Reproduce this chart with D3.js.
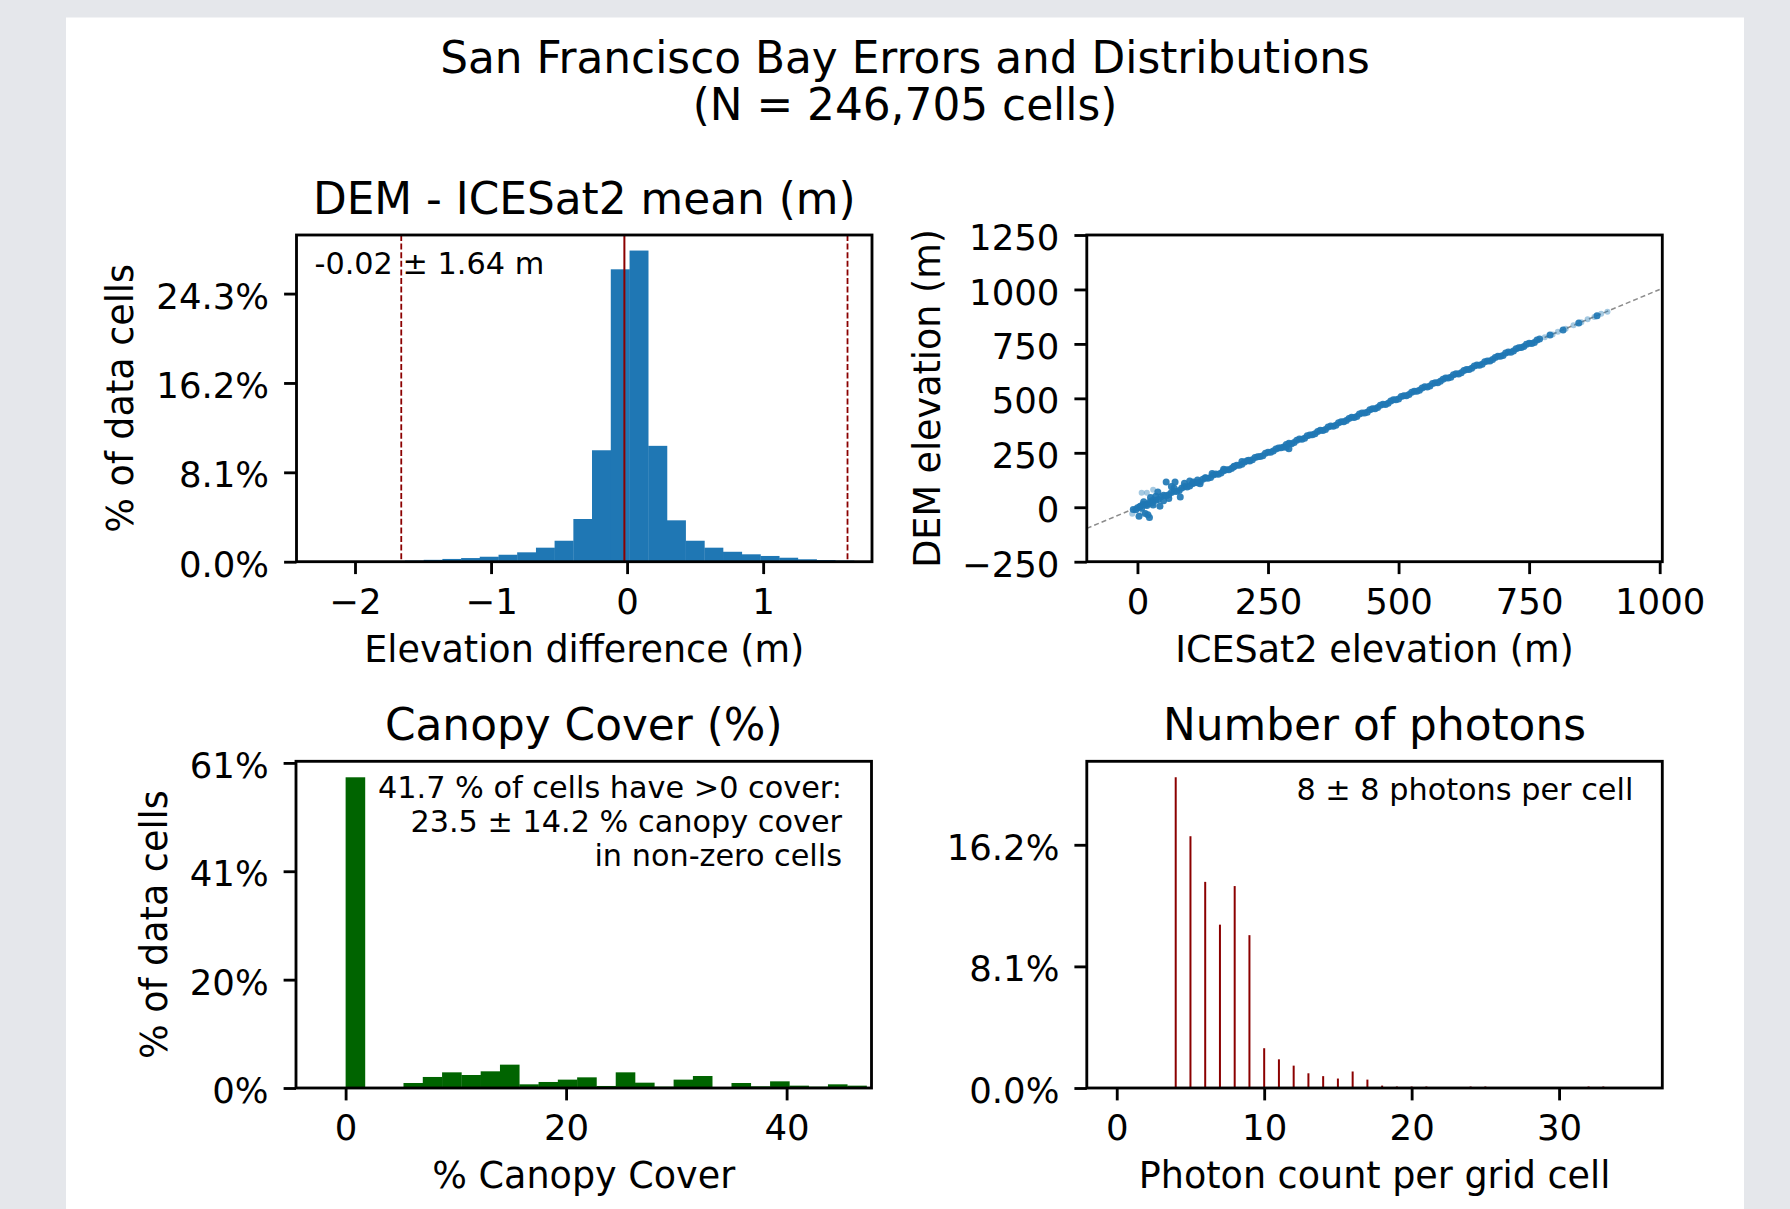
<!DOCTYPE html>
<html>
<head>
<meta charset="utf-8">
<script src="https://cdn.jsdelivr.net/npm/d3@7"></script>
<style>
  body { margin: 0; background: #e5e7eb; }
  svg { display: block; }
  text { font-family: "DejaVu Sans", sans-serif; fill: #000; }
</style>
</head>
<body>
<svg width="1790" height="1209"></svg>
<script>
// ---- data ----
var suptitle = ["San Francisco Bay Errors and Distributions", "(N = 246,705 cells)"];

// DEM - ICESat2 difference histogram (bin edges in m, % of cells)
var diffEdges = [-1.633, -1.495, -1.358, -1.220, -1.083, -0.945, -0.808, -0.670, -0.533, -0.395,
                 -0.258, -0.120, 0.018, 0.155, 0.293, 0.430, 0.568, 0.705, 0.843, 0.980,
                 1.118, 1.255, 1.393, 1.530, 1.668];
var diffPct = [0.1, 0.17, 0.25, 0.33, 0.45, 0.63, 0.85, 1.27, 1.9, 3.87, 10.1, 26.5,
               28.2, 10.5, 3.75, 1.9, 1.27, 0.9, 0.67, 0.52, 0.36, 0.22, 0.15, 0.1];
var diffMean = -0.02, diffStd = 1.64;
var diffYTicks = [0, 8.1, 16.2, 24.3];
var diffYLabels = ["0.0%", "8.1%", "16.2%", "24.3%"];
var diffXTicks = [-2, -1, 0, 1];

// ICESat2 vs DEM elevation scatter (m)
var icesatElev = [0, 10, 20, 30, 40, 50, 60, 70, 80, 90, 100, 110, 120, 130, 140, 150, 160, 170, 180, 190,
                  200, 210, 220, 230, 240, 250, 260, 270, 280, 290, 300, 310, 320, 330, 340, 350, 360, 370, 380, 390,
                  400, 410, 420, 430, 440, 450, 460, 470, 480, 490, 500, 510, 520, 530, 540, 550, 560, 570, 580, 590,
                  600, 610, 620, 630, 640, 650, 660, 670, 680, 690, 700, 710, 720, 730, 740, 750, 760, 770,
                  5, 15, 25, 35, 45, 55, 65, 75, 85, 95, 105, 115, 125, 135, 145, 155, 165, 175, 185, 195,
                  205, 215, 225, 235, 245, 255, 265, 275, 285, 295, 305, 315, 325, 335, 345, 355, 365, 375, 385, 395,
                  405, 415, 425, 435, 445, 455, 465, 475, 485, 495, 505, 515, 525, 535, 545, 555, 565, 575, 585, 595,
                  605, 615, 625, 635, 645, 655, 665, 675, 685, 695, 705, 715, 725, 735, 745, 755, 765,
                  -8, 5, 3, 15, 23, 20, 43, 39, 55, 72, 82, 60, 70, 90, 100, 107, 120, 130, 143, 165,
                  184, 200, 213, 290, 285, 30, 50, 25, 12, 35, 65, 115, -3, 8, 18, 28,
                  790, 815, 845, 880];
var demElev =    [-2, 13, 16, 33, 36, 55, 57, 74, 77, 95, 98, 113, 117, 134, 137, 153, 157, 172, 178, 193,
                  197, 213, 218, 232, 236, 253, 258, 272, 277, 294, 297, 313, 317, 332, 338, 353, 357, 373, 377, 392,
                  398, 413, 417, 433, 436, 452, 458, 473, 477, 493, 497, 512, 518, 533, 537, 553, 557, 572, 578, 593,
                  597, 613, 617, 632, 638, 653, 657, 672, 678, 693, 697, 713, 717, 732, 738, 753, 757, 772,
                  3, 13, 28, 32, 48, 53, 68, 72, 88, 93, 108, 112, 128, 133, 148, 152, 168, 172, 188, 193,
                  208, 212, 228, 233, 248, 252, 268, 273, 288, 292, 308, 312, 328, 333, 348, 352, 368, 372, 388, 393,
                  408, 412, 428, 433, 448, 452, 468, 472, 488, 493, 508, 512, 528, 533, 548, 552, 568, 572, 588, 593,
                  608, 612, 628, 633, 648, 652, 668, 672, 688, 693, 708, 712, 728, 733, 748, 752, 768,
                  -10, 4, -41, -29, -47, -35, 5, 70, 116, 116, 47, 40, 88, 110, 120, 116, 108, 135, 155, 175,
                  185, 210, 216, 269, 275, 10, 30, 45, 25, 50, 95, 125, -12, -5, 8, 20,
                  791, 814, 846, 879];
var faintIcesat = [8, 18, -10, 10, 30, 780, 795, 805, 820, 835, 850, 862, 875, 888, 900];
var faintDem =    [67, 67, -30, -25, 80, 781, 793, 806, 819, 836, 849, 863, 874, 889, 898];
var oneToOne = [-97, 1000];
var elevXTicks = [0, 250, 500, 750, 1000];
var elevYTicks = [-250, 0, 250, 500, 750, 1000, 1250];

// canopy cover histogram (bin left edges in %, % of cells)
var canopyBins = [0, 1.75, 3.5, 5.25, 7, 8.75, 10.5, 12.25, 14, 15.75, 17.5, 19.25, 21, 22.75,
                  24.5, 26.25, 28, 29.75, 31.5, 33.25, 35, 36.75, 38.5, 40.25, 42, 43.75, 45.5];
var canopyPct = [58.3, 0, 0.1, 0.94, 2.07, 2.94, 2.44, 3.13, 4.38, 0.69, 1.13, 1.57, 2.0, 0.38,
                 2.94, 1.0, 0.25, 1.57, 2.25, 0.06, 0.94, 0.31, 1.25, 0.44, 0.25, 0.69, 0.44];
var canopyBinWidth = 1.75;
var canopyYTicks = [0, 20.33, 40.67, 61];
var canopyYLabels = ["0%", "20%", "41%", "61%"];
var canopyXTicks = [0, 20, 40];
var canopyNote = ["41.7 % of cells have >0 cover:", "23.5 \u00b1 14.2 % canopy cover", "in non-zero cells"];

// photon count distribution
var photonCounts = [4, 5, 6, 7, 8, 9, 10, 11, 12, 13, 14, 15, 16, 17, 18, 19, 20, 21, 24, 25, 32, 33];
var photonPct = [20.7, 16.77, 13.73, 10.88, 13.45, 10.18, 2.65, 1.91, 1.49, 0.98, 0.79, 0.63,
                 1.10, 0.56, 0.16, 0.1, 0.1, 0.1, 0.1, 0.1, 0.1, 0.1];
var photonYTicks = [0, 8.1, 16.2];
var photonYLabels = ["0.0%", "8.1%", "16.2%"];
var photonXTicks = [0, 10, 20, 30];

function main() {
    var svg = d3.select("svg");
    var W = 575.5, H = 326.7;
    var tickFont = 35.5, labelFont = 36.5, titleFont = 43.8, noteFont = 30.3;
    var blue = "#1f77b4", green = "#006400", red = "#8b0000";

    svg.append("rect").attr("width", 1790).attr("height", 1209).attr("fill", "#e5e7eb");
    svg.append("rect").attr("x", 66).attr("y", 17.5).attr("width", 1678).attr("height", 1200).attr("fill", "#fff");

    svg.append("text").attr("x", 905).attr("y", 73.3).attr("text-anchor", "middle")
       .attr("font-size", titleFont).text(suptitle[0]);
    svg.append("text").attr("x", 905).attr("y", 120).attr("text-anchor", "middle")
       .attr("font-size", titleFont).text(suptitle[1]);

    function panel(left, top, xDom, yDom, title) {
        var g = svg.append("g").attr("transform", "translate(" + left + "," + top + ")");
        var x = d3.scaleLinear().domain(xDom).range([0, W]);
        var y = d3.scaleLinear().domain(yDom).range([H, 0]);
        g.append("text").attr("x", W / 2).attr("y", -21.5).attr("text-anchor", "middle")
         .attr("font-size", titleFont).text(title);
        return { g: g, x: x, y: y };
    }

    function axes(p, xTicks, xFmt, yTicks, yFmt, xLabel, yLabel, yLabelX) {
        p.g.append("g").attr("class", "axis").attr("transform", "translate(0," + H + ")")
           .call(d3.axisBottom(p.x).tickValues(xTicks).tickFormat(xFmt)
                 .tickSize(12.4).tickPadding(14.7));
        p.g.append("g").attr("class", "axis")
           .call(d3.axisLeft(p.y).tickValues(yTicks).tickFormat(yFmt)
                 .tickSize(12.4).tickPadding(15))
           .selectAll("text").attr("dy", "0.41em");
        p.g.selectAll(".axis .domain").remove();
        p.g.selectAll(".axis line").attr("stroke", "#000").attr("stroke-width", 2.84);
        p.g.selectAll(".axis text").attr("font-size", tickFont)
           .attr("font-family", "DejaVu Sans").attr("fill", "#000");
        p.g.append("rect").attr("width", W).attr("height", H)
           .attr("fill", "none").attr("stroke", "#000").attr("stroke-width", 2.84);
        p.g.append("text").attr("x", W / 2).attr("y", H + 100.5).attr("text-anchor", "middle")
           .attr("font-size", labelFont).text(xLabel);
        if (yLabel) {
            p.g.append("text")
               .attr("transform", "translate(" + yLabelX + "," + (H / 2) + ") rotate(-90)")
               .attr("text-anchor", "middle").attr("font-size", labelFont).text(yLabel);
        }
    }

    // --- panel 1: elevation difference histogram
    var p1 = panel(296.5, 235, [-2.43, 1.80], [0, 29.61], "DEM - ICESat2 mean (m)");
    p1.g.selectAll(".bar").data(diffPct).enter().append("rect")
       .attr("x", function(d, i) { return p1.x(diffEdges[i]); })
       .attr("y", function(d) { return p1.y(d); })
       .attr("width", function(d, i) { return p1.x(diffEdges[i + 1]) - p1.x(diffEdges[i]) + 0.3; })
       .attr("height", function(d) { return H - p1.y(d); })
       .attr("fill", blue);
    p1.g.append("line").attr("x1", p1.x(diffMean)).attr("x2", p1.x(diffMean))
       .attr("y1", 0).attr("y2", H).attr("stroke", red).attr("stroke-width", 2);
    [diffMean - diffStd, diffMean + diffStd].forEach(function(v) {
        p1.g.append("line").attr("x1", p1.x(v)).attr("x2", p1.x(v))
           .attr("y1", 0).attr("y2", H).attr("stroke", red).attr("stroke-width", 1.8)
           .attr("stroke-dasharray", "6,2.6");
    });
    p1.g.append("text").attr("x", 18).attr("y", 39).attr("font-size", noteFont)
       .text(diffMean.toFixed(2) + " \u00b1 " + diffStd.toFixed(2) + " m");
    axes(p1, diffXTicks, d3.format("d"), diffYTicks, function(d, i) { return diffYLabels[i]; },
         "Elevation difference (m)", "% of data cells", -163.2);

    // --- panel 2: ICESat2 vs DEM scatter
    var p2 = panel(1086.8, 235, [-97, 1005], [-250, 1250], "");
    p2.g.append("line")
       .attr("x1", p2.x(oneToOne[0])).attr("y1", p2.y(oneToOne[0]))
       .attr("x2", p2.x(oneToOne[1])).attr("y2", p2.y(oneToOne[1]))
       .attr("stroke", "#8c8c8c").attr("stroke-width", 1.5).attr("stroke-dasharray", "5,3");
    p2.g.selectAll(".faint").data(faintIcesat).enter().append("circle")
       .attr("cx", function(d) { return p2.x(d); })
       .attr("cy", function(d, i) { return p2.y(faintDem[i]); })
       .attr("r", 3).attr("fill", blue).attr("fill-opacity", 0.4);
    p2.g.selectAll(".pt").data(icesatElev).enter().append("circle")
       .attr("cx", function(d) { return p2.x(d); })
       .attr("cy", function(d, i) { return p2.y(demElev[i]); })
       .attr("r", 3.5).attr("fill", blue).attr("fill-opacity", 0.92);
    axes(p2, elevXTicks, d3.format("d"), elevYTicks, d3.format("d"),
         "ICESat2 elevation (m)", "DEM elevation (m)", -146.8);

    // --- panel 3: canopy cover histogram
    var p3 = panel(296, 761.3, [-4.5, 47.7], [0, 61.3], "Canopy Cover (%)");
    p3.g.selectAll(".bar").data(canopyPct).enter().append("rect")
       .attr("x", function(d, i) { return p3.x(canopyBins[i]); })
       .attr("y", function(d) { return p3.y(d); })
       .attr("width", p3.x(canopyBinWidth) - p3.x(0) + 0.3)
       .attr("height", function(d) { return H - p3.y(d); })
       .attr("fill", green);
    canopyNote.forEach(function(t, i) {
        p3.g.append("text").attr("x", W - 29.5).attr("y", 37 + i * 34)
           .attr("text-anchor", "end").attr("font-size", noteFont).text(t);
    });
    axes(p3, canopyXTicks, d3.format("d"), canopyYTicks, function(d, i) { return canopyYLabels[i]; },
         "% Canopy Cover", "% of data cells", -129);

    // --- panel 4: photon counts
    var p4 = panel(1086.8, 761.3, [-2.03, 37.0], [0, 21.76], "Number of photons");
    p4.g.selectAll(".stem").data(photonCounts).enter().append("line")
       .attr("x1", function(d) { return p4.x(d); })
       .attr("x2", function(d) { return p4.x(d); })
       .attr("y1", H)
       .attr("y2", function(d, i) { return p4.y(photonPct[i]); })
       .attr("stroke", red).attr("stroke-width", 2);
    p4.g.append("text").attr("x", W - 29).attr("y", 39).attr("text-anchor", "end")
       .attr("font-size", noteFont).text("8 \u00b1 8 photons per cell");
    axes(p4, photonXTicks, d3.format("d"), photonYTicks, function(d, i) { return photonYLabels[i]; },
         "Photon count per grid cell", null, 0);
}

main();
</script>
</body>
</html>
